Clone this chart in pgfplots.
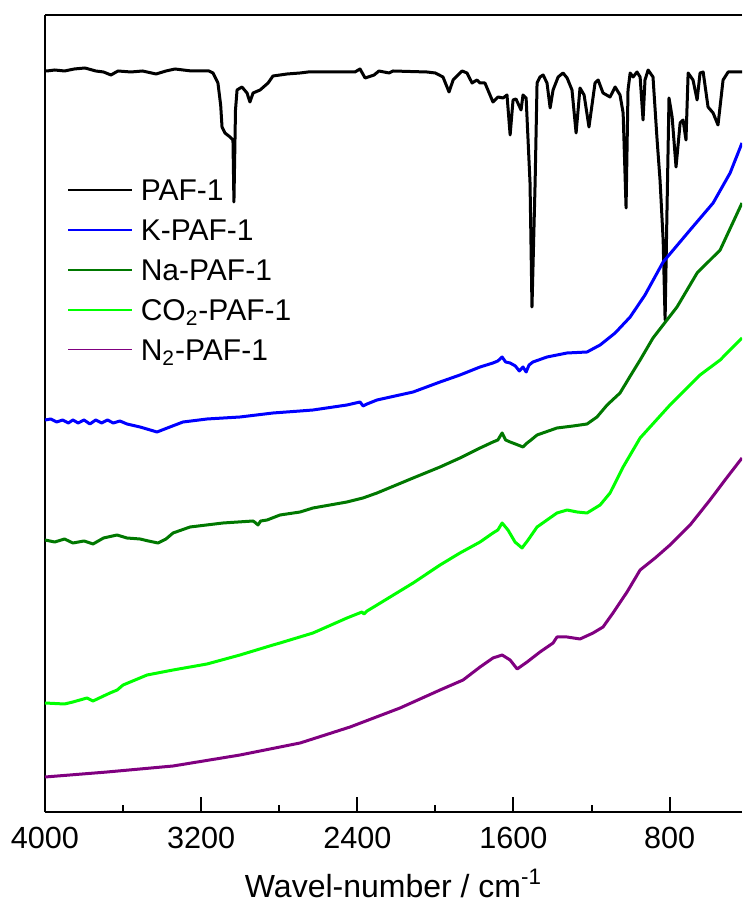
\documentclass[border=0pt]{standalone}
\usepackage{fontspec}
\setmainfont{Liberation Sans}
\usepackage{pgfplots}
\pgfplotsset{compat=1.18}
\definecolor{kblue}{RGB}{0,0,255}
\definecolor{nagreen}{RGB}{0,120,0}
\definecolor{cogreen}{RGB}{0,255,0}
\definecolor{npurple}{RGB}{128,0,128}
\begin{document}
\begin{tikzpicture}
\begin{axis}[
 scale only axis, width=348.5pt, height=398.5pt,
 x dir=reverse, xmin=429, xmax=4000, ymin=-812, ymax=-15,
 axis x line*=box, axis y line*=left,
 ytick=\empty,
 xtick={800,1600,2400,3200,4000},
 minor xtick={1200,2000,2800,3600},
 xtick pos=left, tick align=inside,
 major tick length=7.5pt, minor tick length=3.7pt,
 every tick/.style={black, line width=1pt},
 axis line style={line width=1.1pt},
 /pgf/number format/assume math mode=true,
 /pgf/number format/1000 sep={},
 xticklabel style={font=\fontsize{15.3}{18}\selectfont, yshift=-4pt},
 xlabel={Wavel-number / cm\textsuperscript{-1}},
 xlabel style={font=\fontsize{16}{19}\selectfont, at={(axis description cs:0.5,0)}, anchor=base, yshift=-42.5pt},
 legend style={at={(axis description cs:0.0316,0.7942)}, anchor=north west, draw=none, fill=none, inner sep=0pt, row sep=9.25pt, font=\fontsize{15}{18}\selectfont, nodes={inner sep=0pt, text height=10.7pt, text depth=0pt}, /tikz/every odd column/.append style={column sep=4pt}},
 legend image code/.code={\draw[#1, line width=0.7pt] (0pt,0pt) -- (32pt,0pt);},
 legend cell align=left,
 every axis plot/.append style={line width=1.5pt, line join=round},
]
\addplot[black] table {
4000 -71
3990 -71
3950 -70
3900 -71
3850 -69
3795 -68
3740 -71
3700 -72
3662 -75
3626 -71
3560 -72
3500 -71
3431 -74
3380 -71
3334 -69
3250 -71
3160 -71
3139 -73
3114 -83
3100 -105
3093 -127
3078 -133
3052 -137
3037 -140
3032 -202
3024 -110
3016 -90
2991 -87
2965 -93
2950 -102
2934 -93
2898 -90
2857 -83
2832 -76
2760 -74
2693 -73
2652 -72
2500 -72
2412 -72
2386 -69
2360 -78
2314 -75
2289 -71
2237 -73
2217 -71
2043 -72
2000 -73
1961 -77
1930 -92
1909 -80
1863 -71
1838 -73
1812 -83
1787 -80
1771 -83
1746 -83
1705 -102
1679 -97
1653 -98
1633 -95
1617 -135
1602 -100
1587 -99
1561 -110
1551 -95
1535 -98
1515 -183
1505 -307
1489 -183
1479 -83
1464 -77
1448 -75
1428 -83
1412 -108
1397 -90
1371 -77
1346 -73
1325 -78
1300 -90
1279 -133
1259 -88
1238 -95
1213 -127
1182 -83
1166 -80
1141 -93
1105 -97
1079 -87
1054 -95
1038 -113
1023 -208
1013 -90
1002 -73
987 -77
967 -72
951 -77
936 -120
926 -80
910 -70
885 -77
864 -140
849 -180
833 -240
823 -320
813 -207
803 -98
787 -117
767 -167
746 -123
731 -120
716 -140
705 -73
680 -80
659 -100
644 -73
628 -72
603 -107
577 -113
552 -125
526 -80
500 -72
429 -72
};
\addlegendentry{PAF-1}
\addplot[kblue] table {
4000 -420
3970 -419
3940 -422
3910 -420
3880 -423
3857 -420
3830 -423
3800 -420
3770 -424
3740 -420
3710 -423
3680 -420
3650 -423
3616 -421
3580 -424
3513 -427
3426 -432
3360 -427
3293 -422
3170 -419
3001 -417
2832 -413
2693 -411
2627 -410
2453 -405
2386 -402
2370 -406
2350 -404
2299 -400
2114 -392
1976 -382
1874 -375
1771 -367
1705 -363
1680 -361
1658 -357
1640 -362
1617 -363
1590 -366
1570 -371
1551 -367
1535 -372
1520 -365
1500 -362
1428 -357
1325 -353
1223 -352
1156 -345
1079 -333
1002 -317
926 -295
833 -262
695 -230
577 -203
490 -173
429 -143
};
\addlegendentry{K-PAF-1}
\addplot[nagreen] table {
4000 -540
3950 -542
3900 -539
3857 -543
3800 -541
3754 -544
3700 -538
3631 -535
3580 -538
3513 -539
3470 -541
3421 -543
3380 -539
3344 -533
3257 -527
3088 -523
2934 -521
2920 -523
2909 -525
2895 -521
2862 -520
2796 -515
2693 -512
2627 -508
2453 -502
2371 -498
2299 -493
2114 -478
1976 -467
1874 -458
1771 -448
1705 -442
1680 -440
1658 -433
1640 -440
1617 -442
1590 -444
1551 -447
1530 -443
1510 -440
1479 -435
1377 -428
1295 -426
1223 -424
1172 -417
1120 -405
1054 -393
992 -373
951 -360
885 -338
762 -307
659 -273
541 -250
429 -203
};
\addlegendentry{Na-PAF-1}
\addplot[cogreen] table {
4000 -703
3900 -704
3857 -702
3785 -698
3754 -701
3700 -696
3667 -693
3630 -690
3600 -685
3477 -675
3344 -670
3170 -664
3001 -655
2832 -645
2796 -643
2627 -633
2453 -618
2376 -612
2365 -614
2350 -611
2299 -605
2114 -583
1976 -565
1874 -553
1771 -542
1705 -533
1680 -530
1658 -523
1628 -530
1592 -542
1556 -548
1525 -540
1479 -527
1428 -520
1377 -513
1325 -510
1274 -512
1223 -513
1156 -505
1105 -493
1038 -467
951 -438
798 -405
644 -375
541 -360
429 -338
};
\addlegendentry{CO\textsubscript{2}-PAF-1}
\addplot[npurple] table {
4000 -777
3682 -772
3344 -766
3001 -755
2693 -743
2437 -727
2181 -708
1976 -690
1858 -680
1771 -667
1705 -658
1658 -655
1617 -660
1581 -669
1530 -662
1464 -652
1397 -643
1377 -637
1325 -637
1259 -639
1192 -633
1141 -627
1090 -613
1018 -592
951 -570
874 -558
798 -545
695 -525
593 -500
516 -480
429 -458
};
\addlegendentry{N\textsubscript{2}-PAF-1}
\end{axis}
\coordinate (A) at ([shift={(-22.5pt,-51pt)}]current axis.south west);
\coordinate (B) at ([shift={(0pt,7.5pt)}]current axis.north east);
\pgfresetboundingbox
\path[use as bounding box] (A) rectangle (B);
\end{tikzpicture}
\end{document}
